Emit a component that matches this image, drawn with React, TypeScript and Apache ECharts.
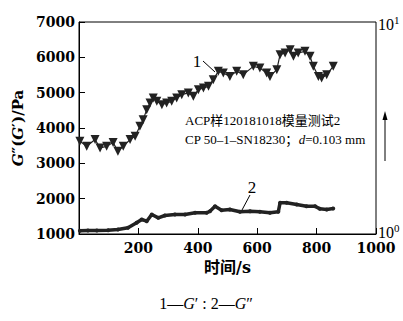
import React, { useEffect, useRef } from "react";
import * as echarts from "echarts";

const xTickValues = [0, 200, 400, 600, 800, 1000];
const yTickValues = [1000, 2000, 3000, 4000, 5000, 6000, 7000];
const rightTickLabels = ["10", "10"];
const rightTickExponents = ["1", "0"];

const gPrimeTime = [3, 26, 54, 71, 93, 115, 131, 149, 172, 189, 205, 216, 228, 239, 250, 262, 279, 295, 312, 329, 346, 368, 385, 402, 419, 436, 452, 469, 486, 508, 531, 553, 587, 609, 632, 643, 666, 677, 694, 711, 722, 738, 761, 778, 789, 806, 817, 834, 856];
const gPrimeValues = [3624, 3482, 3672, 3437, 3482, 3587, 3341, 3482, 3672, 3765, 4048, 4237, 4520, 4709, 4850, 4755, 4661, 4709, 4755, 4850, 4944, 4992, 4897, 5085, 5133, 5180, 5368, 5604, 5557, 5461, 5604, 5510, 5745, 5698, 5557, 5461, 5651, 6075, 6122, 6216, 6028, 6122, 6169, 6028, 5745, 5461, 5416, 5510, 5745];

const gDoublePrimeTime = [3, 30, 60, 98, 131, 165, 194, 211, 228, 245, 267, 289, 323, 357, 391, 430, 441, 458, 480, 508, 542, 576, 609, 643, 671, 677, 699, 733, 766, 795, 811, 834, 856];
const gDoublePrimeValues = [1090, 1100, 1100, 1107, 1127, 1175, 1316, 1410, 1362, 1551, 1458, 1523, 1551, 1551, 1600, 1600, 1645, 1786, 1673, 1693, 1628, 1645, 1628, 1600, 1628, 1882, 1882, 1834, 1786, 1786, 1712, 1693, 1721];

const annotationLines = ["ACP样120181018模量测试2", "CP 50–1–SN18230；"];
const seriesLabels = ["1", "2"];

const FONT = "Liberation Serif, Noto Sans CJK SC";
const BOLD_FONT = "DejaVu Serif, Noto Sans CJK SC";

export default function App() {
  const ref = useRef<HTMLDivElement>(null);
  useEffect(() => {
    if (!ref.current) return;
    const chart = echarts.init(ref.current, undefined, { renderer: "svg" });
    const gp = gPrimeTime.map((t, i) => [t, gPrimeValues[i]]);
    const gdp = gDoublePrimeTime.map((t, i) => [t, gDoublePrimeValues[i]]);
    const option: any = {
      animation: false,
      backgroundColor: "#fff",
      textStyle: { fontFamily: FONT },
      grid: {
        left: 79,
        right: 27,
        top: 22,
        bottom: 87,
        show: true,
        borderColor: "#000",
        borderWidth: 1,
      },
      xAxis: {
        type: "value",
        min: xTickValues[0],
        max: xTickValues[xTickValues.length - 1],
        interval: 200,
        name: "时间/s",
        nameLocation: "middle",
        nameGap: 24,
        nameTextStyle: { fontFamily: BOLD_FONT, fontSize: 16, fontWeight: "bold", color: "#000" },
        axisLine: { lineStyle: { color: "#000", width: 1 } },
        axisTick: { inside: true, length: 6, lineStyle: { color: "#000" } },
        axisLabel: {
          fontFamily: BOLD_FONT,
          fontSize: 14,
          fontWeight: "bold",
          color: "#000",
          margin: 7,
          formatter: (v: number) => (v === 0 ? "" : String(v)),
        },
        splitLine: { show: false },
      },
      yAxis: {
        type: "value",
        min: yTickValues[0],
        max: yTickValues[yTickValues.length - 1],
        interval: 1000,
        name: "{g|G}{n|″(}{g|G}{n|′)/Pa}",
        nameLocation: "middle",
        nameGap: 53,
        nameRotate: 90,
        nameTextStyle: {
          rich: {
            g: { fontFamily: BOLD_FONT, fontSize: 15, fontWeight: "bold", fontStyle: "italic", color: "#000" },
            n: { fontFamily: BOLD_FONT, fontSize: 15, fontWeight: "bold", color: "#000" },
          },
        },
        axisLine: { show: true, lineStyle: { color: "#000", width: 1 } },
        axisTick: { inside: true, length: 6, lineStyle: { color: "#000" } },
        axisLabel: {
          fontFamily: BOLD_FONT,
          fontSize: 14,
          fontWeight: "bold",
          color: "#000",
          margin: 4,
          formatter: (v: number) => String(v),
        },
        splitLine: { show: false },
      },
      series: [
        {
          type: "line",
          name: "G'",
          data: gp,
          symbol: "triangle",
          symbolRotate: 180,
          symbolSize: 9,
          lineStyle: { color: "#222", width: 1.2 },
          itemStyle: { color: "#222" },
        },
        {
          type: "line",
          name: "G''",
          data: gdp,
          symbol: "circle",
          symbolSize: 4,
          lineStyle: { color: "#222", width: 3.5 },
          itemStyle: { color: "#222" },
        },
      ],
      graphic: [
        {
          type: "text",
          left: 185,
          top: 114,
          style: { text: annotationLines[0], fontFamily: FONT, fontSize: 13, fill: "#000" },
        },
        {
          type: "text",
          left: 185,
          top: 133,
          style: {
            text: "{n|" + annotationLines[1] + "}{i|d}{n|=0.103 mm}",
            rich: {
              n: { fontFamily: FONT, fontSize: 13, fill: "#000" },
              i: { fontFamily: FONT, fontSize: 13, fontStyle: "italic", fill: "#000" },
            },
          },
        },
        {
          type: "text",
          x: 197,
          y: 61,
          style: { text: seriesLabels[0], fontFamily: FONT, fontSize: 17, fill: "#000", align: "center", verticalAlign: "middle" },
        },
        { type: "line", shape: { x1: 203, y1: 61, x2: 215, y2: 72 }, style: { stroke: "#000", lineWidth: 1 } },
        {
          type: "text",
          x: 252,
          y: 187,
          style: { text: seriesLabels[1], fontFamily: FONT, fontSize: 17, fill: "#000", align: "center", verticalAlign: "middle" },
        },
        { type: "line", shape: { x1: 250, y1: 195, x2: 242, y2: 210 }, style: { stroke: "#000", lineWidth: 1 } },
        { type: "line", shape: { x1: 385, y1: 161, x2: 385, y2: 118 }, style: { stroke: "#000", lineWidth: 1 } },
        {
          type: "polygon",
          shape: { points: [[385, 111], [382.5, 120], [387.5, 120]] },
          style: { fill: "#000" },
        },
        {
          type: "text",
          x: 378,
          y: 24,
          style: {
            text: "{a|" + rightTickLabels[0] + "}{b|" + rightTickExponents[0] + "}",
            verticalAlign: "middle",
            rich: {
              a: { fontFamily: FONT, fontSize: 16, fill: "#000" },
              b: { fontFamily: FONT, fontSize: 11, fill: "#000", verticalAlign: "top", padding: [0, 0, 8, 0] },
            },
          },
        },
        {
          type: "text",
          x: 378,
          y: 232,
          style: {
            text: "{a|" + rightTickLabels[1] + "}{b|" + rightTickExponents[1] + "}",
            verticalAlign: "middle",
            rich: {
              a: { fontFamily: FONT, fontSize: 16, fill: "#000" },
              b: { fontFamily: FONT, fontSize: 11, fill: "#000", verticalAlign: "top", padding: [0, 0, 8, 0] },
            },
          },
        },
        {
          type: "text",
          x: 206,
          y: 303,
          style: {
            text: "{n|1—}{i|G}{n|′ : 2—}{i|G}{n|″}",
            align: "center",
            verticalAlign: "middle",
            rich: {
              n: { fontFamily: FONT, fontSize: 16, fill: "#000" },
              i: { fontFamily: FONT, fontSize: 16, fontStyle: "italic", fill: "#000" },
            },
          },
        },
      ],
    };
    chart.setOption(option);
    return () => chart.dispose();
  }, []);
  return <div ref={ref} style={{ position: "fixed", left: 0, top: 0, width: 403, height: 321 }} />;
}
